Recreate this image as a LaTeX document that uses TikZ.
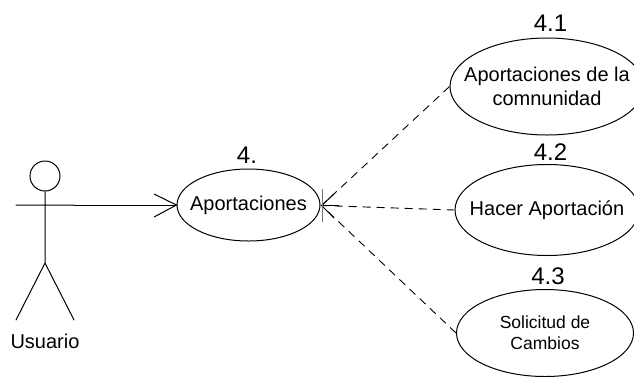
\documentclass[tikz,border=0pt]{standalone}
\usepackage{fontspec}
\setmainfont{Liberation Sans}
\usetikzlibrary{shapes.geometric}
\tikzset{
  x=1pt,y=-1pt,
  uc/.style={draw,ellipse,line width=1pt,inner sep=-40pt,align=center},
  lbl/.style={inner sep=0pt,align=center,text=black},
  limb/.style={line width=1pt,line cap=round},
  dep/.style={line width=0.9pt,dash pattern=on 8pt off 6pt},
  head/.style={line width=1pt},
}
\begin{document}
\begin{tikzpicture}[font=\fontsize{20}{24}\selectfont]
\useasboundingbox (0,0) rectangle (634,376);
\node[uc,minimum width=143pt,minimum height=72pt] (main) at (248.5,205) {Aportaciones};
\node[uc,minimum width=194pt,minimum height=97pt] (a) at (547,86.5) {Aportaciones de la\\comnunidad};
\node[uc,minimum width=184pt,minimum height=91pt] (b) at (547,210) {Hacer Aportación};
\node[uc,minimum width=177pt,minimum height=87pt,font=\fontsize{17.5}{21}\selectfont] (c) at (545,333) {Solicitud de\\Cambios};
\node[lbl,font=\fontsize{24}{28}\selectfont] (n0) at (247,155) {4.};
\node[lbl,font=\fontsize{24}{28}\selectfont] (n1) at (550.5,23) {4.1};
\node[lbl,font=\fontsize{24}{28}\selectfont] (n2) at (550.5,152) {4.2};
\node[lbl,font=\fontsize{24}{28}\selectfont] (n3) at (548,276) {4.3};
\node[draw,circle,minimum size=30pt,inner sep=0pt,line width=1pt] (headc) at (45,176) {};
\coordinate (hip) at (45,263);
\coordinate (armL) at (16,205);
\coordinate (armR) at (74,205);
\coordinate (legL) at (16,320);
\coordinate (legR) at (74,320);
\node[lbl] (usr) at (45,341) {Usuario};
\draw[limb] (headc.south) -- (hip) (armL) -- (armR) (hip) -- (legL) (hip) -- (legR);
\coordinate (tipM) at (main.west);
\coordinate (tipE) at (321.5,205.5);
\coordinate (h1) at (154,194);
\coordinate (h2) at (154,217);
\draw[limb] (armR) -- (tipM);
\draw[head] (h1) -- (tipM) -- (h2);
\draw[dep] (a.west) -- (tipE);
\draw[dep] (b.west) -- (tipE);
\draw[dep] (c.west) -- (tipE);
\coordinate (p1) at (334,194);
\coordinate (p2) at (339,205.5);
\coordinate (p4) at (334,218);
\draw[head] (p1) -- (tipE) -- (p4);
\draw[line width=1.4pt] (tipE) -- (p2);
\draw[line width=0.9pt,black!55] (322,189) -- (322,222);
\end{tikzpicture}
\end{document}
